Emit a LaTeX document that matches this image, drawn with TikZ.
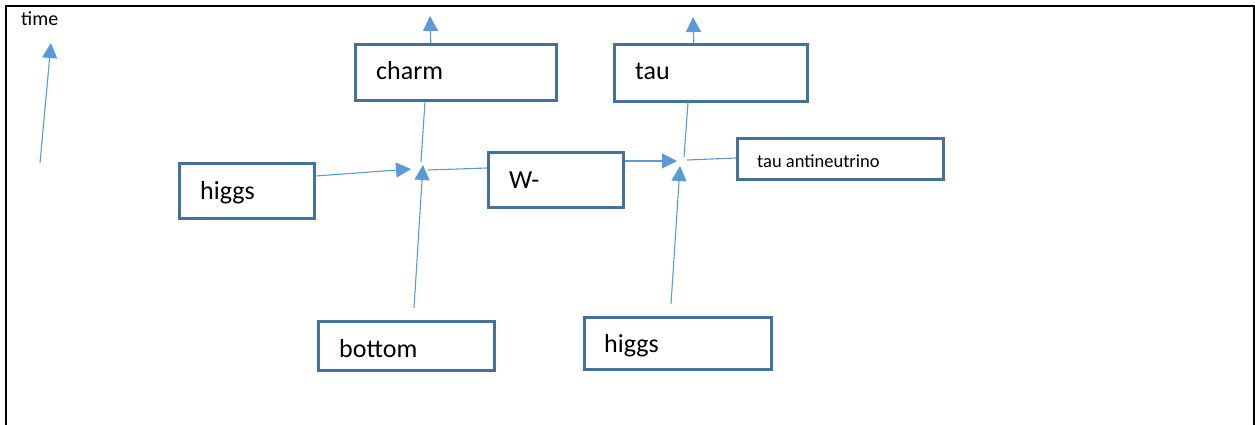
\documentclass[tikz,border=0pt]{standalone}
\usepackage{fontspec}
\setmainfont{Carlito}
\usetikzlibrary{arrows.meta}
\definecolor{lineblue}{HTML}{5B9BD5}
\definecolor{boxblue}{HTML}{41719C}
\begin{document}
\begin{tikzpicture}[x=1pt,y=-1pt,
  pbox/.style={draw=boxblue,line width=2.6pt,fill=white,inner sep=0pt,anchor=north west},
  plabel/.style={anchor=base west,inner sep=0pt,font=\fontsize{26}{30}\selectfont},
  conn/.style={draw=lineblue,line width=1.1pt},
  arr/.style={conn,-{Triangle[length=15pt,width=15pt]}}]
\useasboundingbox (0,0) rectangle (1255,425);
\draw[line width=2pt] (6,426) -- (6,6) -- (1254,6) -- (1254,426);

% boxes
\node[pbox,minimum width=201pt,minimum height=56pt] (charm) at (354,43) {};
\node[pbox,minimum width=193pt,minimum height=57pt] (tau) at (613,43) {};
\node[pbox,minimum width=206pt,minimum height=41pt] (anu) at (736,137) {};
\node[pbox,minimum width=135pt,minimum height=55pt] (wm) at (487,151) {};
\node[pbox,minimum width=135pt,minimum height=55pt] (hl) at (178,162) {};
\node[pbox,minimum width=176pt,minimum height=49pt] (bot) at (317,320) {};
\node[pbox,minimum width=187pt,minimum height=52pt] (hr) at (583,316) {};

% labels
\node[plabel,font=\fontsize{20}{24}\selectfont] (timel) at (21,26) {time};
\node[plabel] (charml) at (376,80) {charm};
\node[plabel] (taul) at (635,80) {tau};
\node[plabel,font=\fontsize{18.5}{22}\selectfont] (anul) at (757,167) {tau antineutrino};
\node[plabel] (wml) at (509,188) {W-};
\node[plabel] (hll) at (200,199) {higgs};
\node[plabel] (botl) at (339,357) {bottom};
\node[plabel] (hrl) at (604,352) {higgs};

% coordinates
\coordinate (t0) at (40,163);
\coordinate (t1) at (51,43);
\coordinate (cu) at (430,16);
\coordinate (tu) at (693,17);
\coordinate (v1a) at (411,169);
\coordinate (v1b) at (423,165);
\coordinate (v1c) at (421,162);
\coordinate (v1d) at (428,170);
\coordinate (b0) at (414,308);
\coordinate (v2a) at (677,161);
\coordinate (v2b) at (680,166);
\coordinate (v2c) at (684,157);
\coordinate (v2d) at (687,160);
\coordinate (h0) at (671,304);

% connectors
\draw[arr] (t0) -- (t1);
\draw[arr] (charm.north) ++(-25,0) coordinate (cs) -- (cu);
\draw[arr] (tau.north) ++(-17,0) coordinate (ts) -- (tu);
\draw[arr] (hl.east |- 0,176) -- (v1a);
\draw[arr] (b0) -- (v1b);
\draw[conn] (v1c) -- (charm.south -| 425,0);
\draw[conn] (v1d) -- (wm.west |- 0,168);
\draw[arr] (wm.east |- 0,161) -- (v2a);
\draw[arr] (h0) -- (v2b);
\draw[conn] (v2c) -- (tau.south -| 688,0);
\draw[conn] (v2d) -- (anu.west |- 0,158);
\end{tikzpicture}
\end{document}
